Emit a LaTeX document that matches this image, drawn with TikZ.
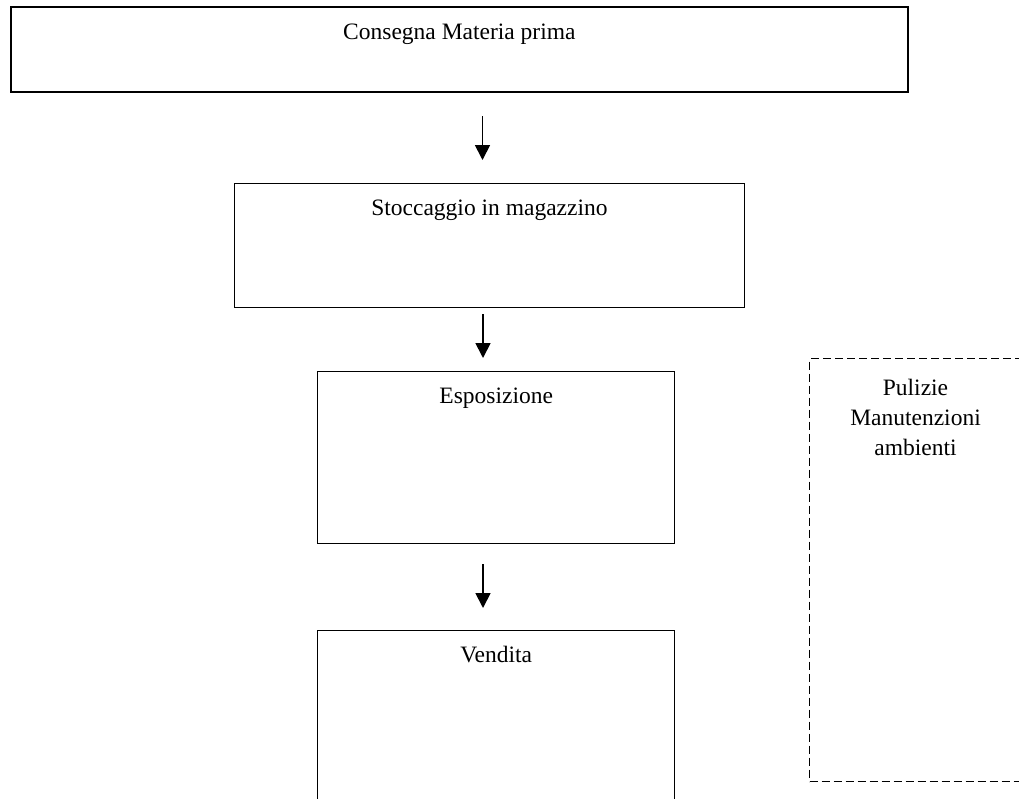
\documentclass[tikz,border=0pt]{standalone}
\usepackage{fontspec}
\setmainfont{Liberation Serif}
\usetikzlibrary{arrows.meta,calc}
\begin{document}
\begin{tikzpicture}[x=1pt,y=-1pt,
  box/.style={draw=black,line width=1.4pt,rectangle,inner sep=0pt},
  boxthick/.style={box,line width=2.2pt},
  dbox/.style={draw=black,line width=1.2pt,dash pattern=on 8pt off 4pt,rectangle,inner sep=0pt},
  lbl/.style={anchor=base,font=\fontsize{23.5}{29}\selectfont,inner sep=0pt},
  arr/.style={line width=1.8pt,-{Triangle[length=15pt,width=15pt]}}]
\useasboundingbox (0,0) rectangle (1019,798);
\clip (0,0) rectangle (1019,798);
\fill[white] (0,0) rectangle (1019,798);
% boxes
\node[boxthick,minimum width=897.5pt,minimum height=85pt,anchor=north west] (b1) at (9.5,6) {};
\node[box,minimum width=510.5pt,minimum height=124pt,anchor=north west] (b2) at (233.5,183) {};
\node[box,minimum width=357pt,minimum height=172pt,anchor=north west] (b3) at (317,371) {};
\node[box,minimum width=357pt,minimum height=200pt,anchor=north west] (b4) at (317,630) {};
\node[dbox,minimum width=213pt,minimum height=423pt,anchor=north west] (d1) at (809,358) {};
% texts
\node[lbl] (t1) at ($(b1.north)+(0,33)$) {Consegna Materia prima};
\node[lbl] (t2) at ($(b2.north)+(0,32.5)$) {Stoccaggio in magazzino};
\node[lbl] (t3) at ($(b3.north)+(0,32.5)$) {Esposizione};
\node[lbl] (t4) at ($(b4.north)+(0,32)$) {Vendita};
\node[lbl,align=center,font=\fontsize{23.5}{30}\selectfont] (t5) at (915.5,455) {Pulizie\\Manutenzioni\\ambienti};
% arrows
\coordinate (a1s) at (482.5,116);
\coordinate (a1e) at (482.5,160);
\coordinate (a2s) at (483,314);
\coordinate (a2e) at (483,358);
\coordinate (a3s) at (483,564);
\coordinate (a3e) at (483,608);
\draw[arr] (a1s) -- (a1e);
\draw[arr] (a2s) -- (a2e);
\draw[arr] (a3s) -- (a3e);
\end{tikzpicture}
\end{document}
